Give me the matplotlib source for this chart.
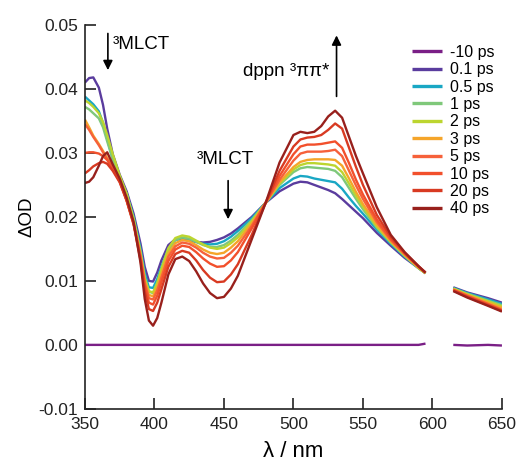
import numpy as np
import matplotlib
matplotlib.use("Agg")
import matplotlib.pyplot as plt
from matplotlib.ticker import FormatStrFormatter

# wavelength grid (nm), two segments around the scatter gap
wl_a = [350, 353, 356, 360, 363, 366, 370, 375, 380, 385, 390, 393, 396, 399,
        402, 405, 410, 415, 420, 425, 430, 435, 440, 445, 450, 455, 460, 470,
        480, 490, 500, 505, 510, 515, 520, 525, 530, 535, 540, 545, 550, 560,
        570, 580, 590, 595]
wl_b = [615, 625, 640, 650]

labels = ["-10 ps", "0.1 ps", "0.5 ps", "1 ps", "2 ps", "3 ps",
          "5 ps", "10 ps", "20 ps", "40 ps"]
colors = ["#7a1f86", "#5a3c9e", "#19a7c4", "#7fc87a", "#bcd52f", "#f5a52a",
          "#f6613a", "#f2502c", "#d83a22", "#98201c"]

od_m10 = [0.0] * 45 + [0.0002] + [0.0, -0.0001, 0.0, -0.0001]

od_01 = [0.0410, 0.0417, 0.0418, 0.0402, 0.0375, 0.0338, 0.0298, 0.0266, 0.0240,
         0.0205, 0.0158, 0.0122, 0.0100, 0.0099, 0.0113, 0.0132, 0.0156, 0.0165,
         0.0165, 0.0163, 0.0161, 0.0160, 0.0161, 0.0164, 0.0168, 0.0174, 0.0182,
         0.0200, 0.0222, 0.0240, 0.0252, 0.0255, 0.0254, 0.0250, 0.0246, 0.0242,
         0.0237, 0.0228, 0.0218, 0.0208, 0.0198, 0.0175, 0.0155, 0.0136, 0.0120,
         0.0112,
         0.0090, 0.0082, 0.0073, 0.0066]
od_05 = [0.0388, 0.0382, 0.0376, 0.0365, 0.0347, 0.0322, 0.0290, 0.0262, 0.0236,
         0.0200, 0.0150, 0.0112, 0.0090, 0.0089, 0.0103, 0.0122, 0.0150, 0.0164,
         0.0167, 0.0165, 0.0161, 0.0158, 0.0157, 0.0158, 0.0162, 0.0169, 0.0178,
         0.0198, 0.0222, 0.0245, 0.0260, 0.0264, 0.0263, 0.0260, 0.0258, 0.0256,
         0.0254, 0.0244, 0.0230, 0.0217, 0.0205, 0.0180, 0.0158, 0.0138, 0.0120,
         0.0112,
         0.0089, 0.0081, 0.0071, 0.0064]
od_1 = [0.0372, 0.0368, 0.0362, 0.0354, 0.0340, 0.0318, 0.0290, 0.0262, 0.0236,
        0.0198, 0.0146, 0.0106, 0.0083, 0.0081, 0.0096, 0.0117, 0.0148, 0.0164,
        0.0168, 0.0166, 0.0161, 0.0156, 0.0153, 0.0153, 0.0156, 0.0163, 0.0172,
        0.0195, 0.0222, 0.0250, 0.0270, 0.0276, 0.0278, 0.0277, 0.0276, 0.0275,
        0.0272, 0.0262, 0.0245, 0.0228, 0.0212, 0.0183, 0.0160, 0.0139, 0.0120,
        0.0112,
        0.0088, 0.0080, 0.0069, 0.0062]
od_2 = [0.0382, 0.0378, 0.0372, 0.0362, 0.0348, 0.0328, 0.0298, 0.0265, 0.0236,
        0.0196, 0.0144, 0.0104, 0.0084, 0.0082, 0.0097, 0.0119, 0.0151, 0.0167,
        0.0171, 0.0169, 0.0163, 0.0157, 0.0152, 0.0150, 0.0152, 0.0159, 0.0168,
        0.0193, 0.0222, 0.0252, 0.0274, 0.0281, 0.0284, 0.0284, 0.0283, 0.0282,
        0.0280, 0.0270, 0.0252, 0.0233, 0.0216, 0.0185, 0.0161, 0.0140, 0.0120,
        0.0112,
        0.0088, 0.0079, 0.0068, 0.0060]
od_3 = [0.0352, 0.0340, 0.0327, 0.0314, 0.0303, 0.0292, 0.0278, 0.0258, 0.0226,
        0.0190, 0.0140, 0.0100, 0.0078, 0.0076, 0.0090, 0.0111, 0.0143, 0.0159,
        0.0164, 0.0162, 0.0156, 0.0149, 0.0144, 0.0142, 0.0144, 0.0152, 0.0162,
        0.0190, 0.0222, 0.0254, 0.0278, 0.0286, 0.0289, 0.0290, 0.0290, 0.0290,
        0.0289, 0.0280, 0.0260, 0.0239, 0.0220, 0.0188, 0.0162, 0.0141, 0.0121,
        0.0112,
        0.0087, 0.0078, 0.0066, 0.0058]
od_5 = [0.0345, 0.0336, 0.0325, 0.0312, 0.0301, 0.0290, 0.0276, 0.0256, 0.0226,
        0.0190, 0.0138, 0.0097, 0.0073, 0.0071, 0.0085, 0.0105, 0.0138, 0.0154,
        0.0160, 0.0158, 0.0152, 0.0144, 0.0138, 0.0135, 0.0136, 0.0144, 0.0155,
        0.0186, 0.0222, 0.0258, 0.0288, 0.0299, 0.0302, 0.0302, 0.0302, 0.0303,
        0.0305, 0.0295, 0.0272, 0.0249, 0.0228, 0.0192, 0.0164, 0.0142, 0.0122,
        0.0113,
        0.0086, 0.0077, 0.0064, 0.0055]
od_10 = [0.0300, 0.0301, 0.0301, 0.0299, 0.0295, 0.0289, 0.0275, 0.0255, 0.0226,
         0.0190, 0.0136, 0.0092, 0.0066, 0.0063, 0.0077, 0.0098, 0.0131, 0.0149,
         0.0155, 0.0153, 0.0145, 0.0135, 0.0127, 0.0122, 0.0123, 0.0132, 0.0145,
         0.0182, 0.0222, 0.0264, 0.0298, 0.0310, 0.0313, 0.0313, 0.0314, 0.0316,
         0.0318, 0.0308, 0.0284, 0.0258, 0.0235, 0.0196, 0.0166, 0.0143, 0.0122,
         0.0113,
         0.0086, 0.0076, 0.0063, 0.0054]
od_20 = [0.0268, 0.0273, 0.0279, 0.0284, 0.0286, 0.0283, 0.0272, 0.0254, 0.0225,
         0.0188, 0.0132, 0.0084, 0.0056, 0.0053, 0.0066, 0.0087, 0.0122, 0.0142,
         0.0147, 0.0144, 0.0132, 0.0117, 0.0105, 0.0098, 0.0099, 0.0110, 0.0126,
         0.0172, 0.0222, 0.0272, 0.0310, 0.0321, 0.0324, 0.0325, 0.0328, 0.0336,
         0.0346, 0.0338, 0.0308, 0.0278, 0.0250, 0.0203, 0.0169, 0.0144, 0.0123,
         0.0113,
         0.0085, 0.0075, 0.0062, 0.0053]
od_40 = [0.0253, 0.0255, 0.0262, 0.0280, 0.0295, 0.0301, 0.0282, 0.0260, 0.0230,
         0.0192, 0.0128, 0.0072, 0.0038, 0.0030, 0.0042, 0.0066, 0.0110, 0.0134,
         0.0138, 0.0131, 0.0115, 0.0096, 0.0081, 0.0073, 0.0075, 0.0088, 0.0108,
         0.0165, 0.0222, 0.0285, 0.0328, 0.0333, 0.0331, 0.0333, 0.0342, 0.0357,
         0.0366, 0.0355, 0.0325, 0.0295, 0.0268, 0.0215, 0.0172, 0.0145, 0.0123,
         0.0113,
         0.0084, 0.0074, 0.0061, 0.0052]

series = [od_m10, od_01, od_05, od_1, od_2, od_3, od_5, od_10, od_20, od_40]

plt.rcParams['font.family'] = ['Liberation Sans', 'DejaVu Sans']
plt.rcParams['axes.unicode_minus'] = False

fig = plt.figure(figsize=(5.18, 4.62), dpi=100)
ax = fig.add_axes([0.164, 0.115, 0.805, 0.831])

na = len(wl_a)
for lab, col, od in zip(labels, colors, series):
    ax.plot(wl_a, od[:na], color=col, lw=1.7, label=lab,
            solid_capstyle='butt', solid_joinstyle='round')
    ax.plot(wl_b, od[na:], color=col, lw=1.7,
            solid_capstyle='butt', solid_joinstyle='round')

ax.set_xlim(350, 650)
ax.set_ylim(-0.01, 0.05)
ax.set_xticks([350, 400, 450, 500, 550, 600, 650])
ax.set_yticks([-0.01, 0.0, 0.01, 0.02, 0.03, 0.04, 0.05])
ax.yaxis.set_major_formatter(FormatStrFormatter('%.2f'))
for s in ['top', 'right']:
    ax.spines[s].set_visible(False)
for s in ['left', 'bottom']:
    ax.spines[s].set_linewidth(1.2)
    ax.spines[s].set_color('#222222')
ax.tick_params(direction='in', length=8, width=1.2, labelsize=12.5,
               colors='#222222', pad=5)
ax.tick_params(axis='x', pad=6)

ax.set_xlabel('λ / nm', fontsize=16, labelpad=6)
ax.set_ylabel('ΔOD', fontsize=13.5, labelpad=2)

# annotations
arrow = dict(arrowstyle='-|>', color='black', lw=1.2, mutation_scale=14)
ax.annotate('', xy=(366.5, 0.0425), xytext=(366.5, 0.0491), arrowprops=arrow)
ax.text(370, 0.0470, '³MLCT', fontsize=13.5, va='center', ha='left')
ax.annotate('', xy=(453, 0.0192), xytext=(453, 0.0261), arrowprops=arrow)
ax.text(451, 0.0290, '³MLCT', fontsize=13.5, va='center', ha='center')
ax.annotate('', xy=(531, 0.0488), xytext=(531, 0.0384), arrowprops=arrow)
ax.text(526, 0.0427, 'dppn ³ππ*', fontsize=13.5, va='center', ha='right')

leg = ax.legend(loc='upper left', bbox_to_anchor=(0.768, 0.965),
                frameon=False, fontsize=11.5, handlelength=1.9,
                handletextpad=0.5, labelspacing=0.15, borderaxespad=0)
for h in leg.get_lines():
    h.set_linewidth(2.4)

fig.savefig('out.png', dpi=100)
